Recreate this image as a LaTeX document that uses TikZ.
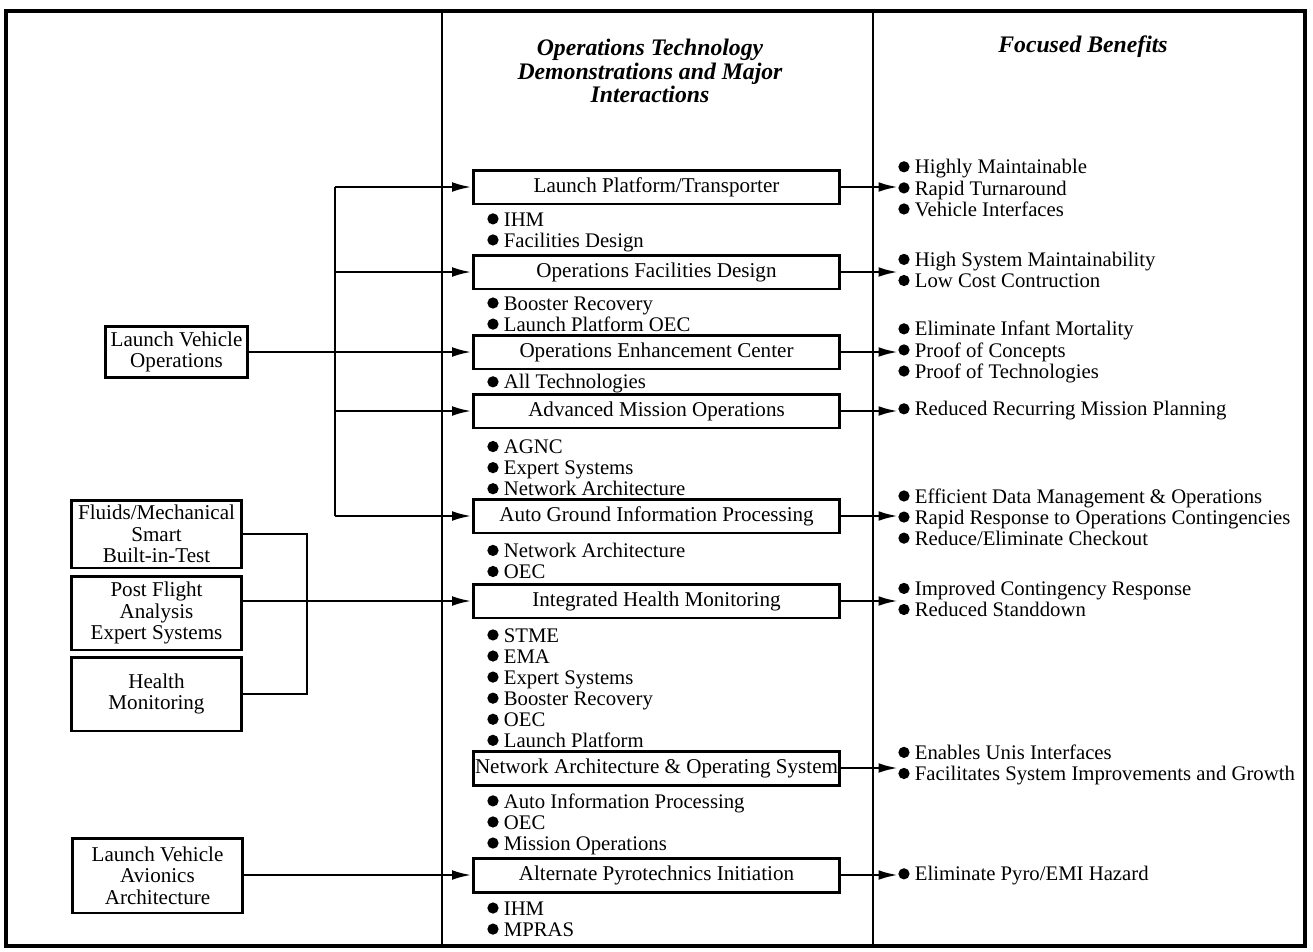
\documentclass[tikz,border=0pt]{standalone}
\usepackage{fontspec}
\setmainfont{Liberation Serif}
\usetikzlibrary{arrows.meta}
\newcommand{\bdot}{\tikz[baseline=-0.75ex]\fill (0,0) circle (3.2pt);\hspace{3pt}}

\begin{document}
\begin{tikzpicture}[x=0.02cm,y=-0.02cm,
  demo/.style={draw,line width=1.7pt,minimum width=7.34cm,minimum height=0.68cm,inner sep=1pt,font=\fontsize{12}{12}\selectfont},
  src/.style={draw,line width=1.7pt,align=center,inner sep=1pt,font=\fontsize{12}{12.3}\selectfont},
  items/.style={anchor=west,align=left,inner sep=0pt,font=\fontsize{11.8}{12}\selectfont},
  head/.style={align=center,font=\fontsize{13.5}{13.2}\selectfont\bfseries\itshape},
  link/.style={line width=1.4pt},
  feed/.style={line width=1.4pt,-{Latex[length=11pt,width=5.5pt]}}]
\useasboundingbox (0,0) rectangle (1313,951);

\draw[line width=2pt] (6,11) rectangle (1305,946);
\draw[line width=1.7pt] (442,11) -- (442,946);
\draw[line width=1.7pt] (873,11) -- (873,946);

\node[head] (hdemo) at (650,71) {Operations Technology\\Demonstrations and Major\\Interactions};
\node[head] (hben) at (1083,47) {Focused Benefits};

\node[demo] (lpt) at (656.5,187) {Launch Platform/Transporter};
\node[demo] (ofd) at (656.5,272) {Operations Facilities Design};
\node[demo] (oec) at (656.5,352) {Operations Enhancement Center};
\node[demo] (amo) at (656.5,411) {Advanced Mission Operations};
\node[demo] (agip) at (656.5,516) {Auto Ground Information Processing};
\node[demo] (ihm) at (656.5,601) {Integrated Health Monitoring};
\node[demo] (naos) at (656.5,768) {Network Architecture \& Operating System};
\node[demo] (api) at (656.5,875) {Alternate Pyrotechnics Initiation};

\node[src,minimum width=2.86cm,minimum height=1.02cm] (lvo) at (176.5,352) {Launch Vehicle\\Operations};
\node[src,minimum width=3.42cm,minimum height=1.36cm] (fmb) at (156.5,534) {Fluids/Mechanical\\Smart\\Built-in-Test};
\node[src,minimum width=3.42cm,minimum height=1.48cm] (pfa) at (156.5,613) {Post Flight\\Analysis\\Expert Systems};
\node[src,minimum width=3.42cm,minimum height=1.48cm] (hmon) at (156.5,694) {Health\\Monitoring};
\node[src,minimum width=3.42cm,minimum height=1.5cm] (lvaa) at (157.5,875.5) {Launch Vehicle\\Avionics\\Architecture};

\node[items] (l1) at (487,232) {\bdot IHM\\\bdot Facilities Design};
\node[items] (l2) at (487,314) {\bdot Booster Recovery\\\bdot Launch Platform OEC};
\node[items] (l3) at (487,384) {\bdot All Technologies};
\node[items] (l4) at (487,468) {\bdot AGNC\\\bdot Expert Systems\\\bdot Network Architecture};
\node[items] (l5) at (487,561) {\bdot Network Architecture\\\bdot OEC};
\node[items] (l6) at (487,688) {\bdot STME\\\bdot EMA\\\bdot Expert Systems\\\bdot Booster Recovery\\\bdot OEC\\\bdot Launch Platform};
\node[items] (l7) at (487,824) {\bdot Auto Information Processing\\\bdot OEC\\\bdot Mission Operations};
\node[items] (l8) at (487,919) {\bdot IHM\\\bdot MPRAS};

\node[items] (b1) at (898,188) {\bdot Highly Maintainable\\\bdot Rapid Turnaround\\\bdot Vehicle Interfaces};
\node[items] (b2) at (898,270) {\bdot High System Maintainability\\\bdot Low Cost Contruction};
\node[items] (b3) at (898,352) {\bdot Eliminate Infant Mortality\\\bdot Proof of Concepts\\\bdot Proof of Technologies};
\node[items] (b4) at (898,411) {\bdot Reduced Recurring Mission Planning};
\node[items] (b5) at (898,517) {\bdot Efficient Data Management \& Operations\\\bdot Rapid Response to Operations Contingencies\\\bdot Reduce/Eliminate Checkout};
\node[items] (b6) at (898,599) {\bdot Improved Contingency Response\\\bdot Reduced Standdown};
\node[items] (b7) at (898,765) {\bdot Enables Unis Interfaces\\\bdot Facilitates System Improvements and Growth};
\node[items] (b8) at (898,876) {\bdot Eliminate Pyro/EMI Hazard};

\coordinate (bus) at (335,0);
\coordinate (jn) at (307,0);
\draw[link] (lpt.west -| bus) -- (agip.west -| bus);
\foreach \n in {lpt,ofd,amo,agip}
  \draw[feed] (\n.west -| bus) -- (\n.west);
\draw[feed] (lvo) -- (oec);
\draw[link] (fmb.east) -- (fmb.east -| jn) -- (hmon.east -| jn) -- (hmon.east);
\draw[feed] (pfa.east |- ihm) -- (ihm.west);
\draw[feed] (lvaa.east |- api) -- (api.west);

\draw[feed] (lpt.east) -- (lpt.east -| b1.west);
\draw[feed] (ofd.east) -- (ofd.east -| b2.west);
\draw[feed] (oec.east) -- (oec.east -| b3.west);
\draw[feed] (amo.east) -- (amo.east -| b4.west);
\draw[feed] (agip.east) -- (agip.east -| b5.west);
\draw[feed] (ihm.east) -- (ihm.east -| b6.west);
\draw[feed] (naos.east) -- (naos.east -| b7.west);
\draw[feed] (api.east) -- (api.east -| b8.west);
\end{tikzpicture}
\end{document}
